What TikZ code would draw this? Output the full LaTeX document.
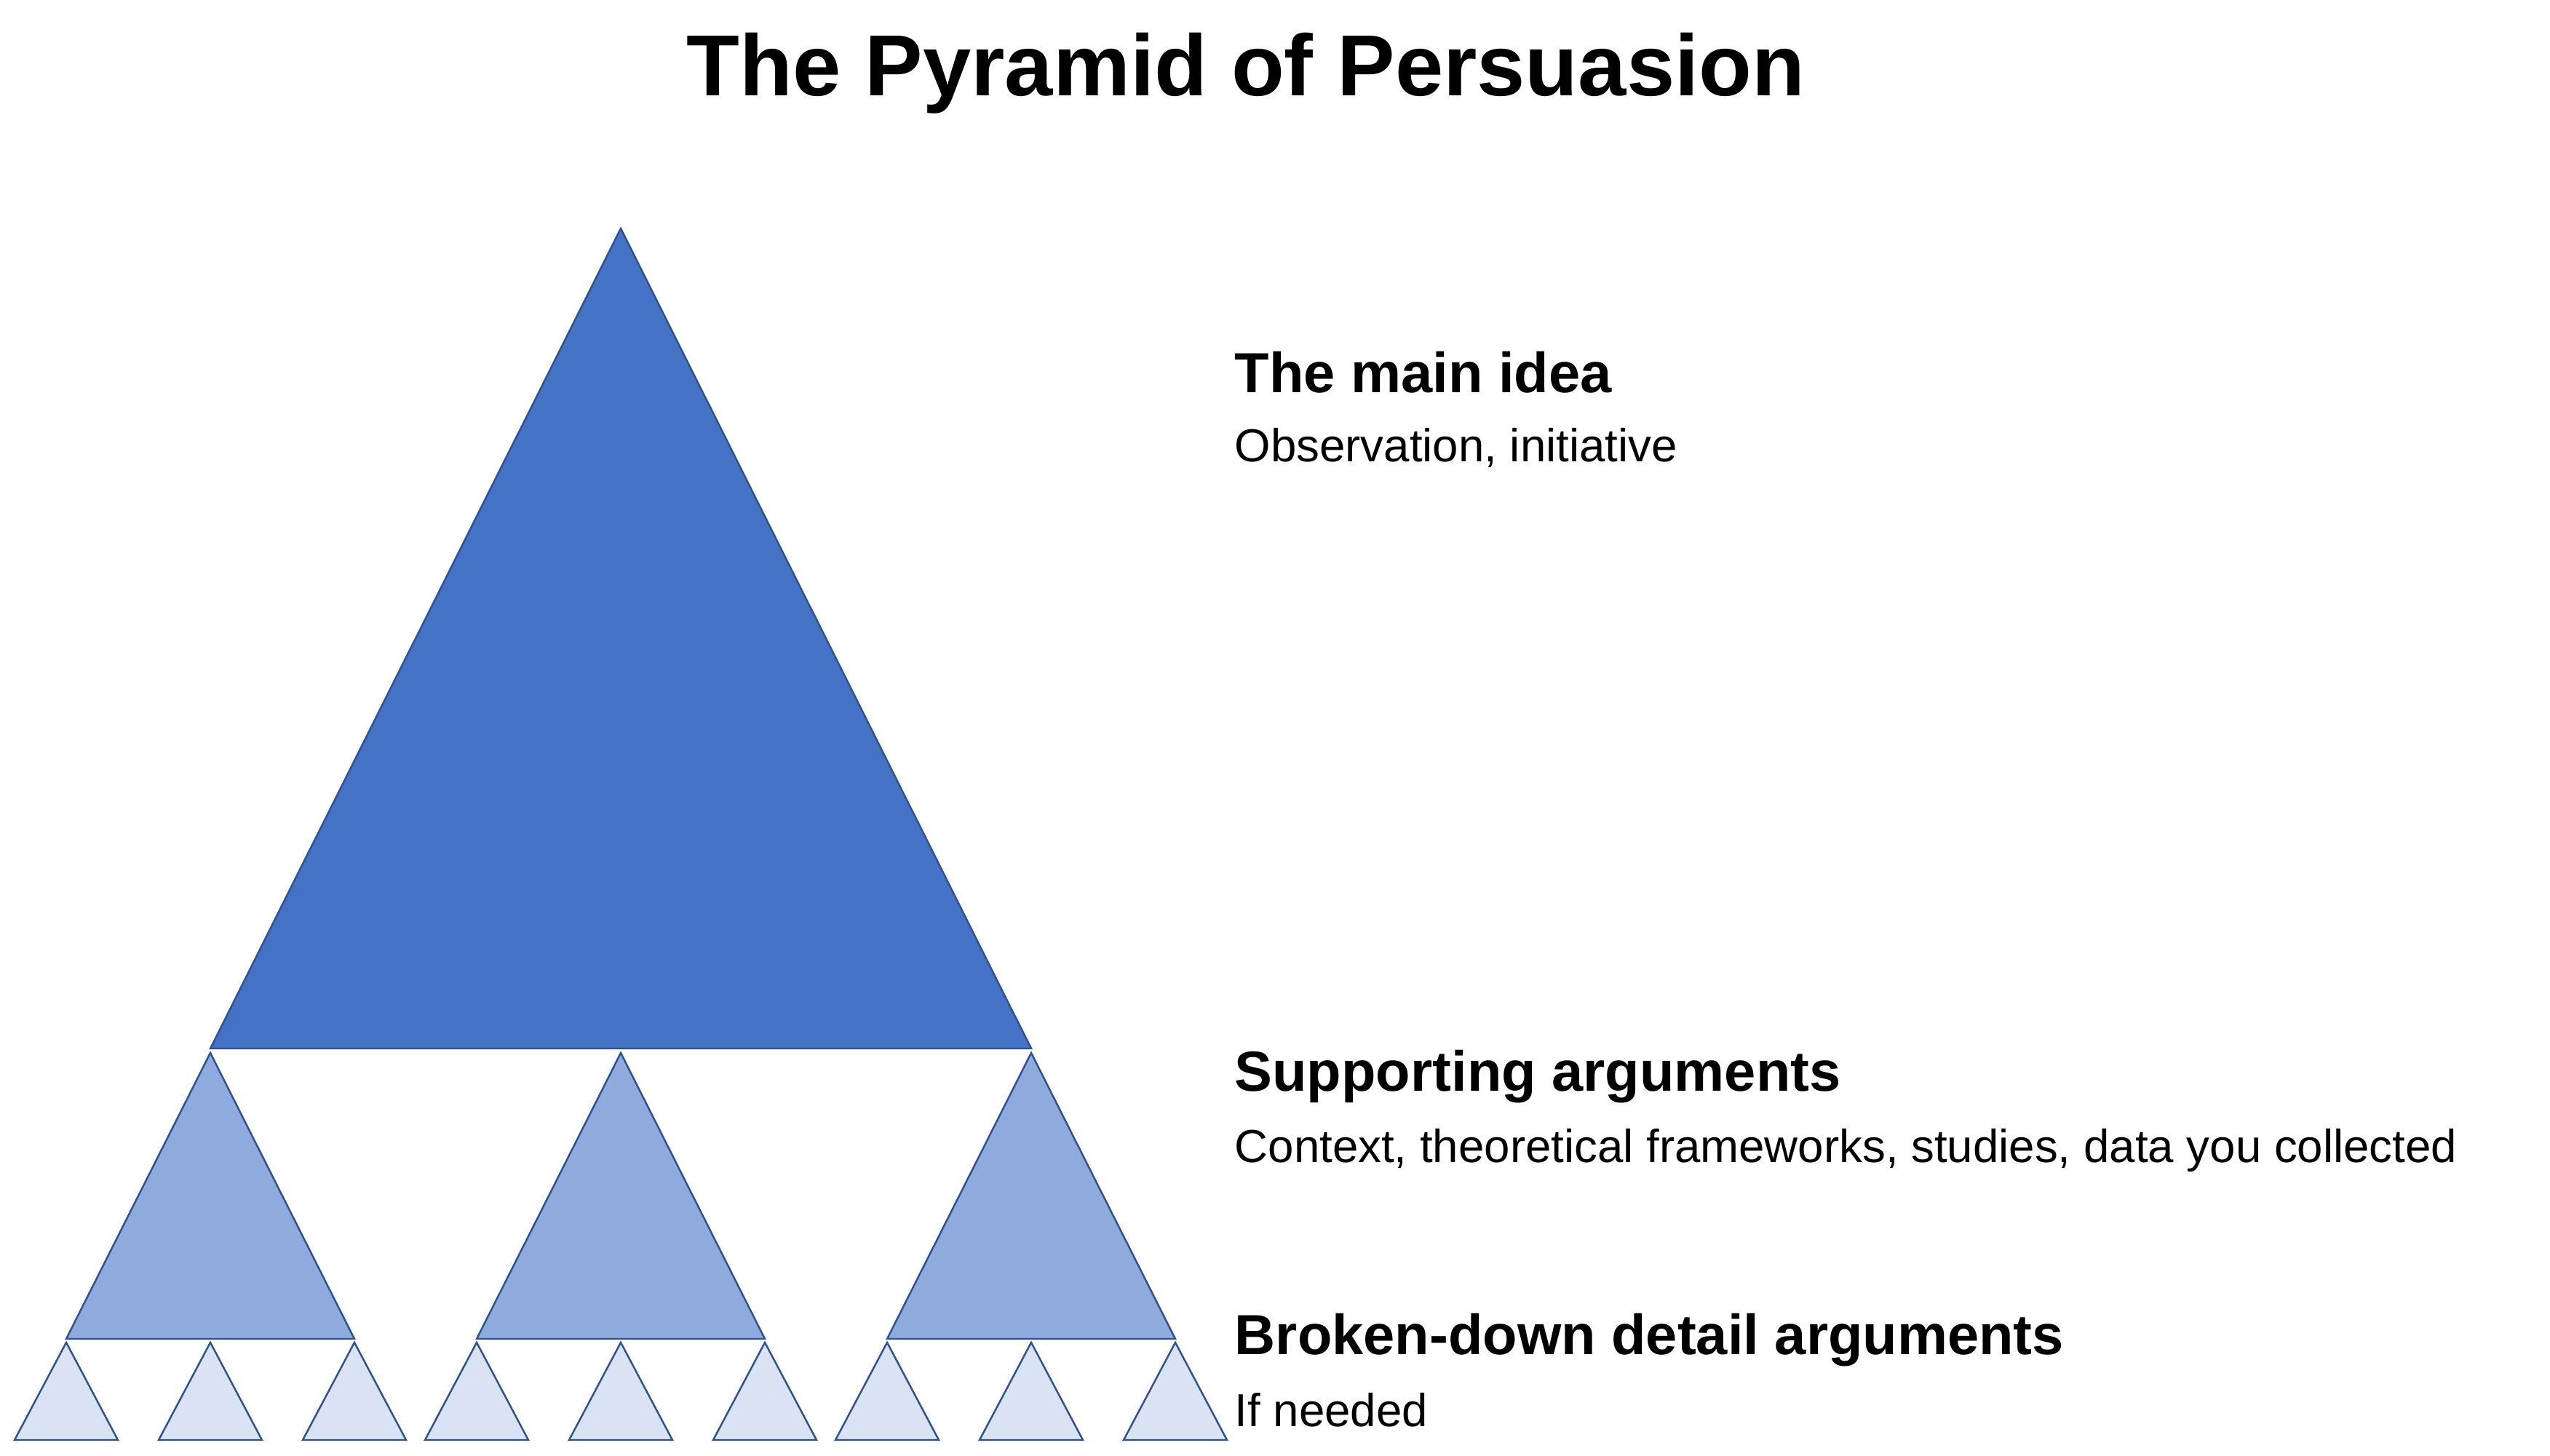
\documentclass[tikz,border=0pt]{standalone}
\usepackage{fontspec}
\setmainfont{Liberation Sans}
\usepackage{tikz}

\definecolor{topblue}{HTML}{4472C4}
\definecolor{midblue}{HTML}{8FAADC}
\definecolor{lowblue}{HTML}{DAE3F3}
\definecolor{edgeblue}{HTML}{2F528F}

\tikzset{
	tri/.style = {draw=edgeblue, line width=0.7pt, line join=miter},
	heading/.style = {anchor=base west, inner sep=0pt, font=\fontsize{22.1}{26}\selectfont\bfseries},
	detail/.style = {anchor=base west, inner sep=0pt, font=\fontsize{18.1}{21}\selectfont}
}

\begin{document}
\begin{tikzpicture}
		\useasboundingbox (0, 0) rectangle (35.04, 20);
		
		\node[anchor=base, inner sep=0pt, font=\fontsize{33.9}{40}\selectfont\bfseries] (title) at (17.12, 18.68) {The Pyramid of Persuasion};
		
		\draw[tri, fill=topblue] (2.89, 5.59) -- (8.53, 16.86) -- (14.17, 5.59) -- cycle;
		
		\draw[tri, fill=midblue] (0.91, 1.60) -- (2.89, 5.53) -- (4.87, 1.60) -- cycle;
		\draw[tri, fill=midblue] (6.55, 1.60) -- (8.53, 5.53) -- (10.51, 1.60) -- cycle;
		\draw[tri, fill=midblue] (12.19, 1.60) -- (14.17, 5.53) -- (16.15, 1.60) -- cycle;
		
		\draw[tri, fill=lowblue] (0.20, 0.21) -- (0.91, 1.55) -- (1.62, 0.21) -- cycle;
		\draw[tri, fill=lowblue] (2.18, 0.21) -- (2.89, 1.55) -- (3.60, 0.21) -- cycle;
		\draw[tri, fill=lowblue] (4.16, 0.21) -- (4.87, 1.55) -- (5.58, 0.21) -- cycle;
		\draw[tri, fill=lowblue] (5.84, 0.21) -- (6.55, 1.55) -- (7.26, 0.21) -- cycle;
		\draw[tri, fill=lowblue] (7.82, 0.21) -- (8.53, 1.55) -- (9.24, 0.21) -- cycle;
		\draw[tri, fill=lowblue] (9.80, 0.21) -- (10.51, 1.55) -- (11.22, 0.21) -- cycle;
		\draw[tri, fill=lowblue] (11.48, 0.21) -- (12.19, 1.55) -- (12.90, 0.21) -- cycle;
		\draw[tri, fill=lowblue] (13.46, 0.21) -- (14.17, 1.55) -- (14.88, 0.21) -- cycle;
		\draw[tri, fill=lowblue] (15.44, 0.21) -- (16.15, 1.55) -- (16.86, 0.21) -- cycle;
		
		\node[heading] (mainhead) at (16.96, 14.60) {The main idea};
		\node[detail] (maintext) at (16.96, 13.65) {Observation, initiative};
		
		\node[heading] (supphead) at (16.96, 5.00) {Supporting arguments};
		\node[detail] (supptext) at (16.96, 4.02) {Context, theoretical frameworks, studies, data you collected};
		
		\node[heading] (detailhead) at (16.96, 1.38) {Broken-down detail arguments};
		\node[detail] (detailtext) at (16.96, 0.40) {If needed};
	\end{tikzpicture}
\end{document}
